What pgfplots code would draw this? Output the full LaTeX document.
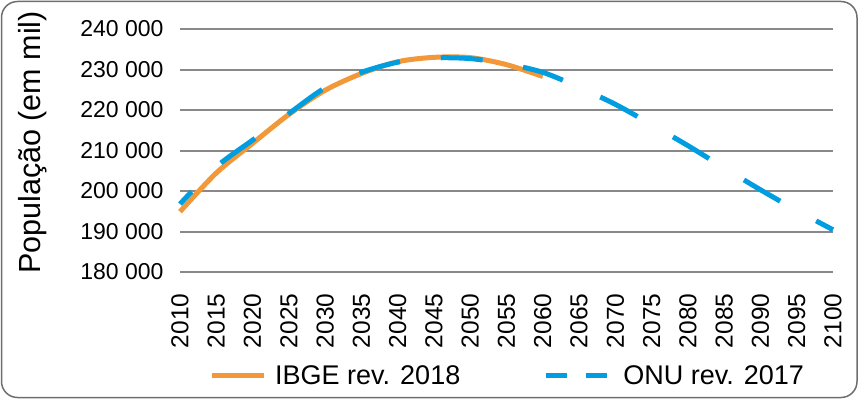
\documentclass[border=0pt]{standalone}
\usepackage{pgfplots}
\pgfplotsset{compat=1.18}
\usepackage{fontspec}
\setmainfont{Liberation Sans}
\definecolor{ibge}{RGB}{242,152,56}
\definecolor{onu}{RGB}{0,158,224}
\definecolor{gridg}{RGB}{137,137,137}
\definecolor{frameg}{RGB}{110,110,110}
\begin{document}
\begin{tikzpicture}[x=1pt,y=1pt]
\draw[frameg, line width=1.5pt, rounded corners=16pt] (1.5,7.5) rectangle (857,403.5);
\begin{axis}[
  at={(180pt,133pt)}, anchor=south west,
  scale only axis, width=653pt, height=243pt,
  xmin=2010, xmax=2100, ymin=180000, ymax=240000,
  enlargelimits=false, clip=false,
  scaled y ticks=false, scaled x ticks=false,
  axis line style={draw=none},
  major tick style={draw=none},
  xtick={2010,2015,...,2100},
  ytick={180000,190000,...,240000},
  yticklabels={180 000,190 000,200 000,210 000,220 000,230 000,240 000},
  ymajorgrids, grid style={line width=2pt, gridg},
  /pgf/number format/assume math mode=true,
  xticklabel style={/pgf/number format/1000 sep={}, rotate=90, anchor=east, xshift=-18pt, font=\fontsize{24.5}{28}\selectfont},
  yticklabel style={xshift=-13pt, font=\fontsize{23}{27}\selectfont},
  ylabel={População (em mil)},
  every axis y label/.style={at={(axis description cs:-0.2251,0.533)}, rotate=90, anchor=center, font=\fontsize{30.5}{36}\selectfont},
  legend style={at={(0,0)}, anchor=north west, xshift=29pt, yshift=-91pt, draw=none, fill=none, inner sep=0pt, font=\fontsize{27}{32}\selectfont, /tikz/every even column/.append style={column sep=81pt}},
  legend columns=2, legend cell align=left,
]
\addplot[ibge, line width=5pt, smooth, tension=0.5,
  legend image code/.code={\draw[ibge, line width=5pt, solid] (0pt,0pt) -- (52pt,0pt); \path (59pt,0pt);}]
  coordinates {
  (2010,194890) (2015,204450) (2020,211756) (2025,218900) (2030,224868)
  (2035,229000) (2040,231920) (2045,233000) (2050,232933) (2055,231200) (2060,228286)
  };
\addlegendentry{IBGE rev. 2018}
\addplot[onu, line width=5pt, smooth, tension=0.5, dash pattern=on 42pt off 41pt, dash phase=25pt,
  legend image code/.code={\draw[onu, line width=5pt, dash pattern=on 21pt off 19pt, dash phase=0pt] (0pt,0pt) -- (61pt,0pt); \path (73pt,0pt);}]
  coordinates {
  (2010,196797) (2015,205962) (2020,212559) (2025,219100) (2030,225472)
  (2035,229300) (2040,231800) (2045,232850) (2050,232688) (2055,231400)
  (2060,229300) (2065,225600) (2070,221400) (2075,216400) (2080,211200)
  (2085,205700) (2090,200300) (2095,195200) (2100,190423)
  };
\addlegendentry{ONU rev. 2017}
\end{axis}
\pgfresetboundingbox
\path[use as bounding box] (0,0) rectangle (862,405);
\end{tikzpicture}
\end{document}
